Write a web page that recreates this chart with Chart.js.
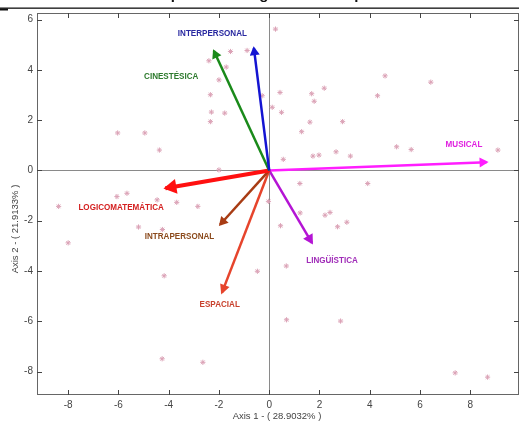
<!DOCTYPE html>
<html>
<head>
<meta charset="utf-8">
<script src="https://cdn.jsdelivr.net/npm/chart.js@4.4.0/dist/chart.umd.min.js"></script>
<style>
  html, body { margin: 0; padding: 0; background: #fff; }
  canvas { display: block; }
</style>
</head>
<body>
<canvas id="biplot" width="519" height="421"></canvas>
<script>
// individuals (rows) - coordinates on axis 1 / axis 2
var obsX = [0.25, -1.54, -0.88, -2.40, -1.71, -2.00, -2.34, -0.28, 0.12, -2.30, -1.77, -2.34, -6.03, -4.95, -4.37, -2.00,
  -6.06, -5.66, -4.46, 4.61, 6.43, 0.43, 1.69, 2.19, 1.79, 4.31, 0.49, 1.62, 2.92, 1.29, 5.07, 5.65, 9.10, 0.56, 1.74,
  1.98, 2.66, 3.23, 1.22, 3.92, -8.38, -2.84, -3.68, -0.03, 1.23, 2.22, 2.42, 0.45, 2.72, 3.09, 0.68, -0.47, -5.20,
  -4.25, -8.00, -4.18, 0.69, 2.84, 7.40, 8.69, -4.26, -2.64];
var obsY = [5.62, 4.73, 4.77, 4.36, 4.11, 3.60, 3.01, 2.97, 2.51, 2.32, 2.28, 1.94, 1.49, 1.49, 0.81, 0.02,
  -1.04, -0.91, -1.17, 3.76, 3.51, 3.10, 3.05, 3.27, 2.75, 2.97, 2.31, 1.92, 1.94, 1.54, 0.94, 0.83, 0.81, 0.44, 0.57,
  0.61, 0.74, 0.57, -0.52, -0.52, -1.43, -1.43, -1.27, -1.23, -1.69, -1.78, -1.67, -2.20, -2.24, -2.06, -3.80, -4.01, -2.25,
  -2.35, -2.88, -4.19, -5.94, -5.99, -8.05, -8.22, -7.49, -7.63];

// variables (columns) - arrow tips
var varNames = ["INTERPERSONAL", "CINESTÉSICA", "LOGICOMATEMÁTICA", "INTRAPERSONAL", "ESPACIAL", "LINGÜÍSTICA", "MUSICAL"];
var varX = [-0.61, -2.20, -4.13, -1.95, -1.88, 1.70, 8.65];
var varY = [4.86, 4.75, -0.71, -2.15, -4.86, -2.88, 0.33];
// where each variable name sits (data units)
var labelX = [-2.26, -3.90, -5.89, -3.57, -1.97, 2.50, 7.75];
var labelY = [5.44, 3.75, -1.46, -2.63, -5.31, -3.56, 1.05];

var xTicks = [-8, -6, -4, -2, 0, 2, 4, 6, 8];
var yTicks = [-8, -6, -4, -2, 0, 2, 4, 6];
var xTitle = "Axis 1 - ( 28.9032% )";
var yTitle = "Axis 2 - ( 21.9133% )";

// styles
var arrowColors = ['#1414d2', '#1a8a1a', '#ff1010', '#a83c14', '#e6442c', '#b414d4', '#ff1eff'];
var labelColors = ['#2828a0', '#2d7a2d', '#d42020', '#8b4a1c', '#c8402c', '#a02cb8', '#e020e0'];
var arrowWidths = [2.5, 2.5, 4, 2.5, 2.5, 2.5, 2.5];
var headSizes = [[9, 5], [9, 5], [13, 7.5], [9, 5], [10, 5], [10, 5.5], [9, 5]];

var datasets = [{
  label: "obs",
  data: obsX.map(function (x, i) { return { x: x, y: obsY[i] }; }),
  pointStyle: 'star',
  pointRadius: 2.6,
  borderColor: '#dba2b6',
  backgroundColor: '#dba2b6',
  borderWidth: 1,
  order: 1
}];

varNames.forEach(function (name, i) {
  datasets.push({
    label: name,
    data: [{ x: 0, y: 0 }, { x: varX[i], y: varY[i] }],
    showLine: true,
    pointRadius: 0,
    borderColor: arrowColors[i],
    borderWidth: arrowWidths[i],
    borderCapStyle: 'butt',
    fill: false,
    order: 0,
    isArrow: true,
    arrowIndex: i
  });
});

var biplotDecor = {
  id: 'biplotDecor',
  beforeDatasetsDraw: function (chart) {
    var ctx = chart.ctx, a = chart.chartArea;
    var sx = chart.scales.x, sy = chart.scales.y;
    ctx.save();
    // zero lines
    ctx.strokeStyle = '#8a8a8a';
    ctx.lineWidth = 1;
    var x0 = Math.round(sx.getPixelForValue(0)) + 0.5;
    var y0 = Math.round(sy.getPixelForValue(0)) + 0.5;
    ctx.beginPath();
    ctx.moveTo(x0, a.top); ctx.lineTo(x0, a.bottom);
    ctx.moveTo(a.left, y0); ctx.lineTo(a.right, y0);
    ctx.stroke();
    // frame
    ctx.strokeStyle = '#666';
    ctx.strokeRect(Math.round(a.left) + 0.5, Math.round(a.top) + 0.5,
      Math.round(a.right - a.left) - 1, Math.round(a.bottom - a.top) - 1);
    // inward tick marks
    ctx.strokeStyle = '#444';
    ctx.beginPath();
    xTicks.forEach(function (v) {
      var px = Math.round(sx.getPixelForValue(v)) + 0.5;
      ctx.moveTo(px, a.bottom); ctx.lineTo(px, a.bottom - 5);
      ctx.moveTo(px, a.top); ctx.lineTo(px, a.top + 5);
    });
    yTicks.forEach(function (v) {
      var py = Math.round(sy.getPixelForValue(v)) + 0.5;
      ctx.moveTo(a.left, py); ctx.lineTo(a.left + 5, py);
      ctx.moveTo(a.right, py); ctx.lineTo(a.right - 5, py);
    });
    ctx.stroke();
    ctx.restore();
  },
  afterDatasetsDraw: function (chart) {
    var ctx = chart.ctx;
    var sx = chart.scales.x, sy = chart.scales.y;
    ctx.save();
    // arrow heads
    chart.data.datasets.forEach(function (ds, di) {
      if (!ds.isArrow) return;
      var i = ds.arrowIndex;
      var pts = chart.getDatasetMeta(di).data;
      var p0 = pts[0], p1 = pts[1];
      var ang = Math.atan2(p1.y - p0.y, p1.x - p0.x);
      var c = Math.cos(ang), s = Math.sin(ang);
      var len = headSizes[i][0], half = headSizes[i][1];
      var tx = p1.x + c * 2, ty = p1.y + s * 2;
      var bx = tx - c * len, by = ty - s * len;
      ctx.fillStyle = arrowColors[i];
      ctx.beginPath();
      ctx.moveTo(tx, ty);
      ctx.lineTo(bx - s * half, by + c * half);
      ctx.lineTo(bx + s * half, by - c * half);
      ctx.closePath();
      ctx.fill();
    });
    // variable names
    ctx.font = 'bold 9.5px "Liberation Sans", Arial, sans-serif';
    ctx.textAlign = 'center';
    ctx.textBaseline = 'middle';
    varNames.forEach(function (name, i) {
      ctx.save();
      ctx.translate(sx.getPixelForValue(labelX[i]), sy.getPixelForValue(labelY[i]));
      ctx.scale(0.85, 1);
      ctx.fillStyle = labelColors[i];
      ctx.fillText(name, 0, 0);
      ctx.restore();
    });
    ctx.restore();
  },
  afterDraw: function (chart) {
    var ctx = chart.ctx;
    ctx.save();
    // axis titles
    ctx.fillStyle = '#444';
    ctx.font = '9.5px "Liberation Sans", Arial, sans-serif';
    ctx.textAlign = 'center';
    ctx.textBaseline = 'middle';
    ctx.fillText(xTitle, 277, 416.5);
    ctx.translate(15.5, 229);
    ctx.rotate(-Math.PI / 2);
    ctx.fillText(yTitle, 0, 0);
    ctx.restore();
    // cut-off heading above the frame
    ctx.save();
    ctx.fillStyle = '#111';
    ctx.font = 'bold 15px "Liberation Sans", Arial, sans-serif';
    ctx.textAlign = 'center';
    ctx.textBaseline = 'alphabetic';
    ctx.fillText("Biplot de Inteligencias Múltiples", 270, -1);
    ctx.fillRect(0, 7.5, 519, 1.3);
    ctx.fillRect(0, 8.5, 8, 2);
    ctx.restore();
  }
};

var tickFont = { family: '"Liberation Sans", Arial, sans-serif', size: 10 };

new Chart(document.getElementById('biplot'), {
  type: 'scatter',
  data: { datasets: datasets },
  options: {
    responsive: false,
    animation: false,
    devicePixelRatio: 1,
    layout: { autoPadding: false, padding: { top: 13, left: 0, right: 0, bottom: 0 } },
    plugins: { legend: { display: false }, tooltip: { enabled: false } },
    scales: {
      x: {
        type: 'linear',
        min: -9.24,
        max: 9.94,
        grid: { display: false, drawTicks: false },
        border: { display: false },
        ticks: { font: tickFont, color: '#444', padding: 4, maxRotation: 0 },
        afterBuildTicks: function (s) { s.ticks = xTicks.map(function (v) { return { value: v }; }); },
        afterFit: function (s) { s.height = 26; s.paddingLeft = 0; s.paddingRight = 0; }
      },
      y: {
        type: 'linear',
        min: -8.93,
        max: 6.26,
        grid: { display: false, drawTicks: false },
        border: { display: false },
        ticks: { font: tickFont, color: '#444', padding: 4 },
        afterBuildTicks: function (s) { s.ticks = yTicks.map(function (v) { return { value: v }; }); },
        afterFit: function (s) { s.width = 37; s.paddingTop = 0; s.paddingBottom = 0; }
      }
    }
  },
  plugins: [biplotDecor]
});
</script>
</body>
</html>
